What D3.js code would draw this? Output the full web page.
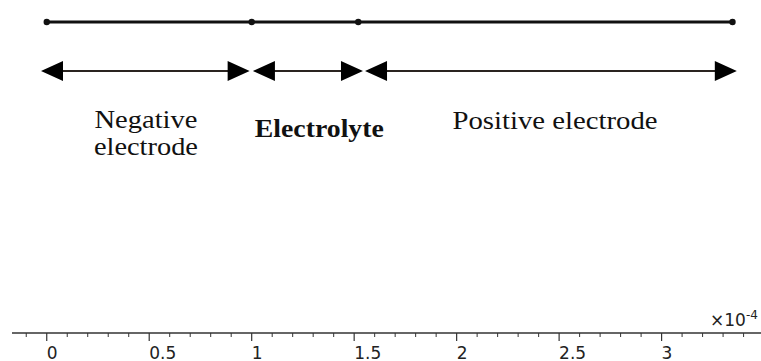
<!DOCTYPE html>
<html>
<head>
<meta charset="utf-8">
<script src="https://cdn.jsdelivr.net/npm/d3@7"></script>
<style>
  body { margin: 0; background: #fff; }
  svg { display: block; }
  .axis path, .axis line { stroke: #333; }
  .axis text { font-family: "DejaVu Sans", sans-serif; font-size: 17px; fill: #222; }
  .label { font-family: "Liberation Serif", "Times New Roman", serif; fill: #111; }
</style>
</head>
<body>
<svg></svg>
<script>
(function () {
  var width = 761, height = 361;

  // domain positions (x 1e-4 m)
  var nodes = [0, 1, 1.52, 3.346];
  var spans = [[-0.028, 0.99], [1.006, 1.543], [1.553, 3.367]];
  var labelX = [0.484, 1.33, 2.48];
  var labelText = [["Negative", "electrode"], ["Electrolyte"], ["Positive electrode"]];
  var labelBold = [false, true, false];
  var majorTicks = [0, 0.5, 1, 1.5, 2, 2.5, 3];
  var minorTicks = [-0.1, 0.1, 0.2, 0.3, 0.4, 0.6, 0.7, 0.8, 0.9, 1.1, 1.2, 1.3, 1.4,
                    1.6, 1.7, 1.8, 1.9, 2.1, 2.2, 2.3, 2.4, 2.6, 2.7, 2.8, 2.9,
                    3.1, 3.2, 3.3, 3.4, 3.5];

  var svg = d3.select('svg')
        .attr("width", width)
        .attr("height", height);

  var x = d3.scaleLinear()
        .domain([-0.1695, 3.485])
        .range([12, 761]);

  var lineY = 22, arrowY = 71, axisY = 333;

  // domain line with node points
  svg.append("path")
    .datum(nodes)
    .attr("d", d3.line().x(function(d) { return x(d); }).y(lineY))
    .attr("stroke", "#111")
    .attr("stroke-width", 3)
    .attr("fill", "none");

  svg.selectAll(".node")
    .data(nodes)
    .enter().append("circle")
    .attr("cx", function(d) { return x(d); })
    .attr("cy", lineY)
    .attr("r", 3.2)
    .attr("fill", "#111");

  // double-headed arrows for each region
  var headL = 22, headH = 10;
  var arrows = svg.selectAll(".arrow")
    .data(spans)
    .enter().append("g")
    .attr("class", "arrow");

  arrows.append("line")
    .attr("x1", function(d) { return x(d[0]) + 5; })
    .attr("x2", function(d) { return x(d[1]) - 5; })
    .attr("y1", arrowY).attr("y2", arrowY)
    .attr("stroke", "#2a2420")
    .attr("stroke-width", 2.2);

  arrows.append("path")
    .attr("d", function(d) {
      var a = x(d[0]), b = x(d[1]);
      return "M" + a + "," + arrowY + "L" + (a + headL) + "," + (arrowY - headH) +
             "L" + (a + headL) + "," + (arrowY + headH) + "Z" +
             "M" + b + "," + arrowY + "L" + (b - headL) + "," + (arrowY - headH) +
             "L" + (b - headL) + "," + (arrowY + headH) + "Z";
    })
    .attr("fill", "#000");

  // region labels
  var labels = svg.selectAll(".label")
    .data(labelText)
    .enter().append("text")
    .attr("class", "label")
    .attr("text-anchor", "middle")
    .attr("font-weight", function(d, i) { return labelBold[i] ? "bold" : "normal"; })
    .attr("font-size", function(d, i) { return labelBold[i] ? "25px" : "26px"; });

  labels.selectAll("tspan")
    .data(function(d, i) { return d.map(function(t, j) { return {t: t, i: i, j: j}; }); })
    .enter().append("tspan")
    .attr("x", function(d) { return x(labelX[d.i]); })
    .attr("y", function(d) {
      if (d.i === 0) return 128 + d.j * 27;
      if (d.i === 1) return 137;
      return 129;
    })
    .attr("textLength", function(d) {
      if (d.i === 1) return 129;
      if (d.i === 2) return 205;
      return d.j === 0 ? 103 : 104;
    })
    .attr("lengthAdjust", "spacingAndGlyphs")
    .text(function(d) { return d.t; });

  // x axis
  var axis = svg.append("g")
    .attr("class", "axis")
    .attr("transform", "translate(0," + axisY + ")");

  axis.append("line")
    .attr("x1", 12).attr("x2", width)
    .attr("stroke-width", 1.5);

  axis.selectAll(".minor")
    .data(minorTicks)
    .enter().append("line")
    .attr("x1", function(d) { return x(d); })
    .attr("x2", function(d) { return x(d); })
    .attr("y1", 0).attr("y2", 4)
    .attr("stroke-width", 1);

  var major = axis.selectAll(".major")
    .data(majorTicks)
    .enter().append("g")
    .attr("transform", function(d) { return "translate(" + x(d) + ",0)"; });

  major.append("line")
    .attr("y1", 0).attr("y2", 8)
    .attr("stroke-width", 1.2);

  major.append("text")
    .attr("x", 0)
    .attr("y", 26)
    .attr("text-anchor", "start")
    .text(function(d) { return d; });

  axis.append("text")
    .attr("x", 710)
    .attr("y", -7)
    .text("×10")
    .append("tspan")
    .attr("dy", -7)
    .attr("font-size", "12px")
    .text("-4");
})();
</script>
</body>
</html>
